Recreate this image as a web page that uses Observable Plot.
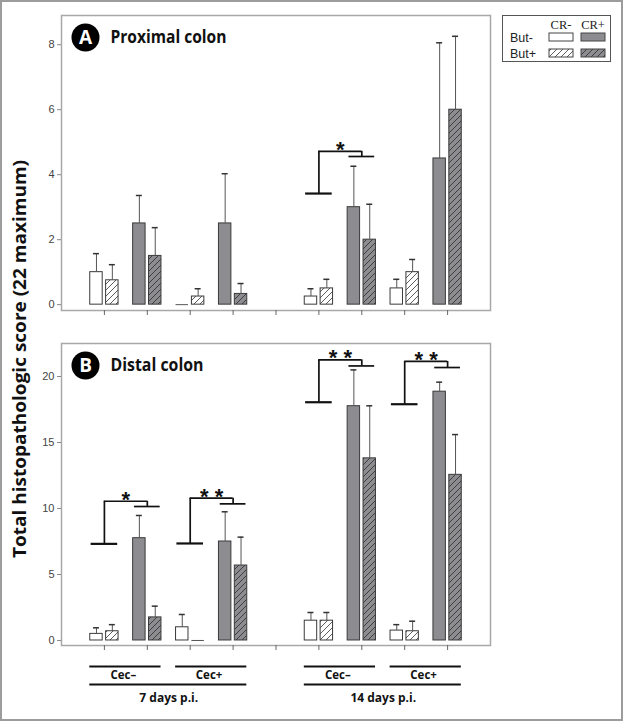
<!DOCTYPE html>
<html><head><meta charset="utf-8">
<script src="https://cdn.jsdelivr.net/npm/d3@7"></script>
<script src="https://cdn.jsdelivr.net/npm/@observablehq/plot@0.6"></script>
<style>
html,body{margin:0;padding:0;background:#fff;}
#wrap{position:relative;width:623px;height:721px;overflow:hidden;background:#fff;}
.abs{position:absolute;left:0;}
#border{position:absolute;left:0;top:0;width:623px;height:721px;box-sizing:border-box;border:2px solid #9c9c9c;pointer-events:none;}
</style></head><body>
<svg width="0" height="0" style="position:absolute">
 <defs>
  <pattern id="hatchW" patternUnits="userSpaceOnUse" width="6" height="6">
   <rect width="6" height="6" fill="#ffffff"/>
   <path d="M-1,1 l2,-2 M0,6 l6,-6 M5,7 l2,-2" stroke="#333" stroke-width="0.8"/>
  </pattern>
  <pattern id="hatchG" patternUnits="userSpaceOnUse" width="6" height="6">
   <rect width="6" height="6" fill="#8d8d91"/>
   <path d="M-1,1 l2,-2 M0,6 l6,-6 M5,7 l2,-2" stroke="#2a2a2a" stroke-width="0.8"/>
  </pattern>
 </defs>
</svg>
<div id="wrap">
 <div id="pa" class="abs" style="top:0"></div>
 <div id="pb" class="abs" style="top:330px"></div>
 <svg id="over" class="abs" style="top:0" width="623" height="721"></svg>
 <div id="border"></div>
</div>
<script>
// ---------- data ----------
const slotPos = [1, 2, 3, 4, 6, 7, 8, 9];
const slotTicks = [1, 2, 3, 4, 5, 6, 7, 8, 9];
const crStatus = ["CR-", "CR+", "CR-", "CR+", "CR-", "CR+", "CR-", "CR+"];

const proxButNeg    = [1.0, 2.5, 0, 2.5, 0.25, 3.0, 0.5, 4.5];
const proxButNegErr = [1.57, 3.36, null, 4.03, 0.49, 4.26, 0.78, 8.06];
const proxButPos    = [0.75, 1.5, 0.25, 0.33, 0.5, 2.0, 1.0, 6.0];
const proxButPosErr = [1.23, 2.37, 0.49, 0.65, 0.78, 3.09, 1.39, 8.26];

const distButNeg    = [0.5, 7.75, 1.0, 7.5, 1.5, 17.75, 0.75, 18.85];
const distButNegErr = [0.96, 9.47, 1.97, 9.75, 2.12, 20.5, 1.2, 19.57];
const distButPos    = [0.7, 1.75, 0, 5.68, 1.5, 13.8, 0.7, 12.55];
const distButPosErr = [1.2, 2.6, null, 7.83, 2.12, 17.78, 1.46, 15.6];

const proxTicks = [0, 2, 4, 6, 8];
const distTicks = [0, 5, 10, 15, 20];

const proxBrackets = [
  {from: 6, to: 7, low: 3.42, high: 4.72, end: 4.56, label: "*"}
];
const distBrackets = [
  {from: 1, to: 2, low: 7.32, high: 10.55, end: 10.15, label: "*"},
  {from: 3, to: 4, low: 7.35, high: 10.78, end: 10.35, label: "**"},
  {from: 6, to: 7, low: 18.05, high: 21.26, end: 20.8, label: "**"},
  {from: 8, to: 9, low: 17.9, high: 21.14, end: 20.68, label: "**"}
];

const cecLabels = ["Cec–", "Cec+", "Cec–", "Cec+"];
const cecSpans = [[1, 2], [3, 4], [6, 7], [8, 9]];
const dayLabels = ["7 days p.i.", "14 days p.i."];
const daySpans = [[1, 4], [6, 9]];

const legendCols = ["CR-", "CR+"];
const legendRows = ["But-", "But+"];
const yTitle = "Total histopathologic score (22 maximum)";

// ---------- helpers ----------
const GRAY = "#8d8d91";
const FONT = "'Open Sans', 'Noto Sans', sans-serif";

function buildBars(negM, negE, posM, posE) {
  const out = [];
  slotPos.forEach((p, i) => {
    out.push({p, but: "-", cr: crStatus[i], x1: p - 0.33, x2: p - 0.04, cx: p - 0.185, v: negM[i], e: negE[i]});
    out.push({p, but: "+", cr: crStatus[i], x1: p + 0.04, x2: p + 0.33, cx: p + 0.185, v: posM[i], e: posE[i]});
  });
  return out;
}

function barMarks(bars) {
  const nz = bars.filter(d => d.v > 0);
  const fills = [["-", "CR-", "white"], ["-", "CR+", GRAY], ["+", "CR-", "url(#hatchW)"], ["+", "CR+", "url(#hatchG)"]];
  const marks = fills.map(([b, c, f]) =>
    Plot.rect(nz.filter(d => d.but === b && d.cr === c), {x1: "x1", x2: "x2", y1: () => 0, y2: "v", fill: f, stroke: "#3a3a3a", strokeWidth: 1})
  );
  marks.push(Plot.ruleY(bars.filter(d => d.v === 0), {y: () => 0, x1: "x1", x2: "x2", stroke: "#555", strokeWidth: 1}));
  const eb = bars.filter(d => d.e != null);
  marks.push(Plot.ruleX(eb, {x: "cx", y1: "v", y2: "e", stroke: "#555", strokeWidth: 1}));
  marks.push(Plot.ruleY(eb, {y: "e", x1: d => d.cx - 0.07, x2: d => d.cx + 0.07, stroke: "#333", strokeWidth: 1.5}));
  return marks;
}

function bracketMarks(br) {
  const s = {stroke: "#111", strokeWidth: 1.7};
  return [
    Plot.ruleY(br, {y: "low", x1: d => d.from - 0.31, x2: d => d.from + 0.31, stroke: "#111", strokeWidth: 2.2}),
    Plot.ruleX(br, {x: "from", y1: "low", y2: "high", ...s}),
    Plot.ruleY(br, {y: "high", x1: "from", x2: "to", ...s}),
    Plot.ruleX(br, {x: "to", y1: "end", y2: "high", ...s}),
    Plot.ruleY(br, {y: "end", x1: d => d.to - 0.3, x2: d => d.to + 0.3, ...s}),
    Plot.text(br, {x: d => (d.from + d.to) / 2, y: "high", text: d => d.label.split("").join(" "), lineAnchor: "bottom", dy: 5.5, fontSize: 22, fontWeight: "bold", fill: "#111", fontFamily: "'Liberation Sans', sans-serif"})
  ];
}

function panelLabel(letter, title) {
  return [
    Plot.dot([letter], {frameAnchor: "top-left", dx: 24, dy: 22, r: 14, fill: "black", stroke: "none"}),
    Plot.text([letter], {text: d => d, frameAnchor: "top-left", dx: 24, dy: 22.5, textAnchor: "middle", lineAnchor: "middle", fill: "white", fontSize: 19, fontWeight: "bold", fontFamily: FONT}),
    Plot.text([title], {text: d => d, frameAnchor: "top-left", dx: 49, dy: 22, textAnchor: "start", lineAnchor: "middle", fill: "#111", fontSize: 17.5, fontWeight: "bold", fontFamily: FONT})
  ];
}

function squeeze(svg, str, len) {
  d3.select(svg).selectAll("text").filter(function() { return this.textContent === str; })
    .attr("textLength", len).attr("lengthAdjust", "spacingAndGlyphs");
}

const baseStyle = {background: "transparent", fontFamily: "'Liberation Sans', Arial, sans-serif", fontSize: "11px", color: "#444", overflow: "visible"};

// ---------- panel A ----------
const barsA = buildBars(proxButNeg, proxButNegErr, proxButPos, proxButPosErr);
const plotA = Plot.plot({
  width: 623, height: 330,
  marginLeft: 61, marginRight: 133, marginTop: 15, marginBottom: 20,
  x: {domain: [0, 10]},
  y: {domain: [-0.18, 8.9]},
  style: baseStyle,
  marks: [
    Plot.frame({stroke: "#a8a8a8", strokeWidth: 1.5}),
    Plot.axisY({ticks: proxTicks, tickSize: 4, tickPadding: 3, stroke: "#888", fill: "#444", label: null}),
    Plot.axisX({ticks: slotTicks, tickSize: 5, tickFormat: () => "", stroke: "#666", label: null}),
    ...barMarks(barsA),
    ...bracketMarks(proxBrackets),
    ...panelLabel("A", "Proximal colon")
  ]
});
document.getElementById("pa").appendChild(plotA);
squeeze(plotA, "Proximal colon", 116);

// ---------- panel B ----------
const yDomB = [-0.38, 22.5];
const barsB = buildBars(distButNeg, distButNegErr, distButPos, distButPosErr);
const cecData = cecLabels.map((l, i) => ({label: l, a: cecSpans[i][0], b: cecSpans[i][1]}));
const dayData = dayLabels.map((l, i) => ({label: l, a: daySpans[i][0], b: daySpans[i][1]}));
const plotB = Plot.plot({
  width: 623, height: 391,
  marginLeft: 61, marginRight: 133, marginTop: 13, marginBottom: 76,
  x: {domain: [0, 10]},
  y: {domain: yDomB},
  style: baseStyle,
  marks: [
    Plot.frame({stroke: "#a8a8a8", strokeWidth: 1.5}),
    Plot.axisY({ticks: distTicks, tickSize: 4, tickPadding: 3, stroke: "#888", fill: "#444", label: null}),
    Plot.axisX({ticks: slotTicks, tickSize: 5, tickFormat: () => "", stroke: "#666", label: null}),
    ...barMarks(barsB),
    ...bracketMarks(distBrackets),
    ...panelLabel("B", "Distal colon"),
    // group labels below the axis
    Plot.ruleY(cecData, {y: () => yDomB[0], x1: d => d.a - 0.34, x2: d => d.b + 0.32, dy: 21, stroke: "#111", strokeWidth: 2}),
    Plot.text(cecData, {x: d => (d.a + d.b) / 2 - 0.06, y: () => yDomB[0], dy: 30, text: "label", fontSize: 11.5, fontWeight: "bold", fill: "#111", fontFamily: FONT}),
    Plot.ruleY(dayData, {y: () => yDomB[0], x1: d => d.a - 0.34, x2: d => d.b + 0.32, dy: 39, stroke: "#111", strokeWidth: 2}),
    Plot.text(dayData, {x: d => (d.a + d.b) / 2, y: () => yDomB[0], dy: 53, text: "label", fontSize: 12, fontWeight: "bold", fill: "#111", fontFamily: FONT})
  ]
});
document.getElementById("pb").appendChild(plotB);
squeeze(plotB, "Distal colon", 93);

// ---------- overlay: y title and legend ----------
const over = d3.select("#over");
over.append("text")
  .attr("transform", "translate(26,359) rotate(-90)")
  .attr("text-anchor", "middle")
  .attr("font-family", FONT)
  .attr("font-size", 18.5)
  .attr("font-weight", "bold")
  .attr("fill", "#111")
  .attr("textLength", 398)
  .attr("lengthAdjust", "spacingAndGlyphs")
  .text(yTitle);

const lg = over.append("g");
lg.append("rect").attr("x", 502.5).attr("y", 15.5).attr("width", 108).attr("height", 46)
  .attr("fill", "white").attr("stroke", "#555").attr("stroke-width", 1);
const colX = [549, 581];
const rowY = [33, 49];
legendCols.forEach((c, j) => {
  lg.append("text").attr("x", colX[j] + 12).attr("y", 29).attr("text-anchor", "middle")
    .attr("font-family", "'Liberation Serif', serif").attr("font-size", 12.5).attr("fill", "#222").text(c);
});
legendRows.forEach((r, i) => {
  lg.append("text").attr("x", 510).attr("y", rowY[i] + 8.5)
    .attr("font-family", "'Liberation Sans', sans-serif").attr("font-size", 12.5).attr("fill", "#222").text(r);
  legendCols.forEach((c, j) => {
    const fill = i === 0 ? (j === 0 ? "white" : GRAY) : (j === 0 ? "url(#hatchW)" : "url(#hatchG)");
    lg.append("rect").attr("x", colX[j]).attr("y", rowY[i]).attr("width", 24).attr("height", 8)
      .attr("fill", fill).attr("stroke", "#444").attr("stroke-width", 1);
  });
});
</script>
</body></html>
